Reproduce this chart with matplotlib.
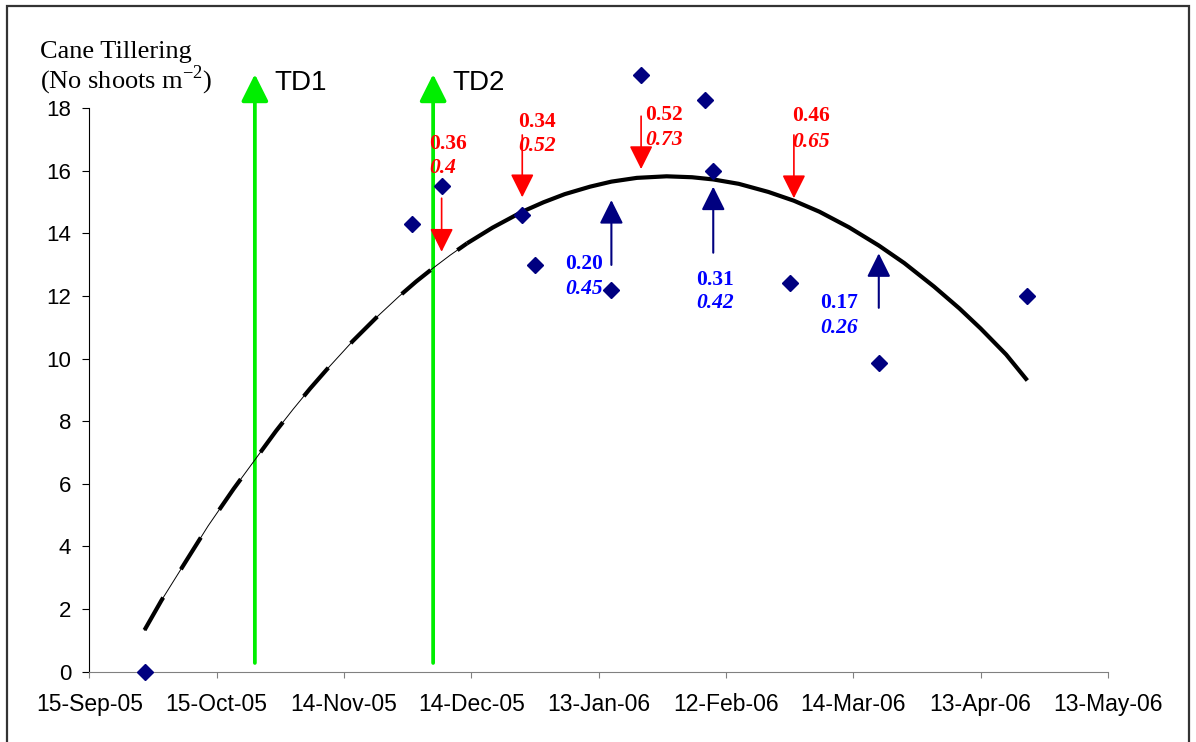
import datetime as dt
import matplotlib
matplotlib.use('Agg')
import matplotlib.pyplot as plt
import matplotlib.dates as mdates
from matplotlib.patches import Rectangle

plt.rcParams['mathtext.fontset'] = 'custom'
plt.rcParams['mathtext.rm'] = 'Liberation Serif'

d = dt.date

# measured tillering (shoots per m2)
obs_dates = [d(2005, 9, 28), d(2005, 11, 30), d(2005, 12, 7), d(2005, 12, 26),
             d(2005, 12, 29), d(2006, 1, 16), d(2006, 1, 23), d(2006, 2, 7),
             d(2006, 2, 9), d(2006, 2, 27), d(2006, 3, 20), d(2006, 4, 24)]
obs_vals = [0.0, 14.3, 15.5, 14.6, 13.0, 12.2, 19.05, 18.25, 16.0, 12.4, 9.85, 12.0]

# trend curve
trend_dates = [d(2005, 9, 28), d(2005, 10, 2), d(2005, 10, 8), d(2005, 10, 13),
               d(2005, 10, 19), d(2005, 10, 25), d(2005, 10, 29), d(2005, 11, 2),
               d(2005, 11, 6), d(2005, 11, 10), d(2005, 11, 16), d(2005, 11, 22),
               d(2005, 11, 27), d(2005, 12, 1), d(2005, 12, 5), d(2005, 12, 9),
               d(2005, 12, 13), d(2005, 12, 19), d(2005, 12, 26), d(2005, 12, 31),
               d(2006, 1, 5), d(2006, 1, 11), d(2006, 1, 16), d(2006, 1, 22),
               d(2006, 1, 29), d(2006, 2, 4), d(2006, 2, 9), d(2006, 2, 15),
               d(2006, 2, 22), d(2006, 2, 28), d(2006, 3, 6), d(2006, 3, 13),
               d(2006, 3, 20), d(2006, 3, 26), d(2006, 4, 2), d(2006, 4, 8),
               d(2006, 4, 13), d(2006, 4, 19), d(2006, 4, 24)]
trend_vals = [1.33, 2.28, 3.58, 4.66, 5.84, 6.95, 7.69, 8.38, 9.04, 9.66, 10.55, 11.36,
              11.99, 12.46, 12.89, 13.30, 13.68, 14.18, 14.69, 14.99, 15.25, 15.49,
              15.65, 15.77, 15.82, 15.79, 15.72, 15.58, 15.32, 15.04, 14.69, 14.19,
              13.61, 13.05, 12.30, 11.60, 10.96, 10.13, 9.30]
dash_end = d(2005, 12, 13)  # trend drawn dashed up to here

# tillering dates
td_dates = [d(2005, 10, 24), d(2005, 12, 5)]
td_labels = ['TD1', 'TD2']
td_range = (0.28, 19.08)

# red (down) arrows
red_dates = [d(2005, 12, 7), d(2005, 12, 26), d(2006, 1, 23), d(2006, 2, 28)]
red_from = [15.12, 17.14, 17.74, 17.14]
red_to = [13.41, 15.15, 16.05, 15.12]
red_top = ['0.36', '0.34', '0.52', '0.46']
red_bot = ['0.4', '0.52', '0.73', '0.65']

# blue (up) arrows
blue_dates = [d(2006, 1, 16), d(2006, 2, 9), d(2006, 3, 20)]
blue_from = [12.99, 13.38, 11.62]
blue_to = [15.06, 15.49, 13.36]
blue_top = ['0.20', '0.31', '0.17']
blue_bot = ['0.45', '0.42', '0.26']

tick_dates = [d(2005, 9, 15) + dt.timedelta(days=30 * i) for i in range(9)]

fig = plt.figure(figsize=(11.96, 7.42), dpi=100)
ax = fig.add_axes([0.0747, 0.0947, 0.8517, 0.7597])

# frame around the figure
fig.patches.append(Rectangle((7 / 1196, -0.01), 1182 / 1196, 1 - 6 / 742 + 0.01,
                             transform=fig.transFigure, fill=False,
                             edgecolor='#333333', linewidth=1.6))

# trend line: dashed early part, solid afterwards
n_dashed = sum(1 for t in trend_dates if t <= dash_end)
ax.plot(trend_dates[:n_dashed], trend_vals[:n_dashed], color='black', lw=0.7, zorder=2)
ax.plot(trend_dates[:n_dashed], trend_vals[:n_dashed], color='black', lw=3,
        ls=(0, (9, 8)), dash_capstyle='butt', zorder=2)
ax.plot(trend_dates[n_dashed - 1:], trend_vals[n_dashed - 1:], color='black', lw=3,
        solid_capstyle='butt', solid_joinstyle='round', zorder=2)

# green TD arrows
for x, lab in zip(td_dates, td_labels):
    ax.annotate('', xy=(x, td_range[1]), xytext=(x, td_range[0]),
                arrowprops=dict(arrowstyle='-|>,head_length=1.0,head_width=0.5',
                                mutation_scale=16.5, color='#00EE00', lw=2.7,
                                shrinkA=0, shrinkB=0),
                annotation_clip=False, zorder=1)
    ax.annotate(lab, xy=(x, 18.8), xytext=(14, 0), textcoords='offset points',
                fontsize=20, family='Liberation Sans', ha='left', va='center',
                annotation_clip=False)

# observations
ax.plot(obs_dates, obs_vals, 'D', color='#000080', ms=8, clip_on=False, zorder=5)

red_dx = [-8.9, -2.9, 2.7, -1.4]
red_y1 = [16.86, 17.57, 17.79, 17.73]
red_y2 = [16.08, 16.80, 16.99, 16.93]
for i, x in enumerate(red_dates):
    ax.annotate('', xy=(x, red_to[i]), xytext=(x, red_from[i]),
                arrowprops=dict(arrowstyle='-|>,head_length=1.0,head_width=0.5',
                                mutation_scale=14.5, color='#FF0000', lw=1.2,
                                shrinkA=0, shrinkB=0), zorder=4)
    ax.annotate(red_top[i], xy=(x, red_y1[i]), xytext=(red_dx[i], 0),
                textcoords='offset points', color='#FF0000', fontsize=15.5,
                fontweight='bold', family='Liberation Serif', ha='left', va='center')
    ax.annotate(red_bot[i], xy=(x, red_y2[i]), xytext=(red_dx[i], 0),
                textcoords='offset points', color='#FF0000', fontsize=15.5,
                fontweight='bold', style='italic', family='Liberation Serif',
                ha='left', va='center')

blue_dx = [-33.0, -12.6, -42.0]
blue_y1 = [13.02, 12.52, 11.79]
blue_y2 = [12.22, 11.76, 10.97]
for i, x in enumerate(blue_dates):
    ax.annotate('', xy=(x, blue_to[i]), xytext=(x, blue_from[i]),
                arrowprops=dict(arrowstyle='-|>,head_length=1.0,head_width=0.5',
                                mutation_scale=14.5, color='#000080', lw=1.5,
                                shrinkA=0, shrinkB=0), zorder=4)
    ax.annotate(blue_top[i], xy=(x, blue_y1[i]), xytext=(blue_dx[i], 0),
                textcoords='offset points', color='#0000FF', fontsize=15.5,
                fontweight='bold', family='Liberation Serif', ha='left', va='center')
    ax.annotate(blue_bot[i], xy=(x, blue_y2[i]), xytext=(blue_dx[i], 0),
                textcoords='offset points', color='#0000FF', fontsize=15.5,
                fontweight='bold', style='italic', family='Liberation Serif',
                ha='left', va='center')

# axes
ax.set_xlim(tick_dates[0], tick_dates[-1])
ax.set_ylim(0, 18)
ax.set_xticks(tick_dates)
ax.xaxis.set_major_formatter(mdates.DateFormatter('%d-%b-%y'))
ax.set_yticks(range(0, 19, 2))
for s in ('top', 'right'):
    ax.spines[s].set_visible(False)
ax.spines['bottom'].set_color('#808080')
ax.spines['left'].set_color('black')
ax.tick_params(axis='x', direction='out', length=4.5, pad=11, labelsize=16.5,
               color='#808080')
ax.tick_params(axis='y', direction='out', length=5, pad=8, labelsize=16)
for lab in ax.get_xticklabels() + ax.get_yticklabels():
    lab.set_family('Liberation Sans')

fig.text(40 / 1196, 1 - 52 / 742, 'Cane Tillering', fontsize=19,
         family='Liberation Serif', ha='left', va='center')
fig.text(40 / 1196, 1 - 80 / 742, '(No shoots m$^{\\mathrm{-2}}$)', fontsize=19,
         family='Liberation Serif', ha='left', va='center')

fig.savefig('out.png', dpi=100, facecolor='white')
